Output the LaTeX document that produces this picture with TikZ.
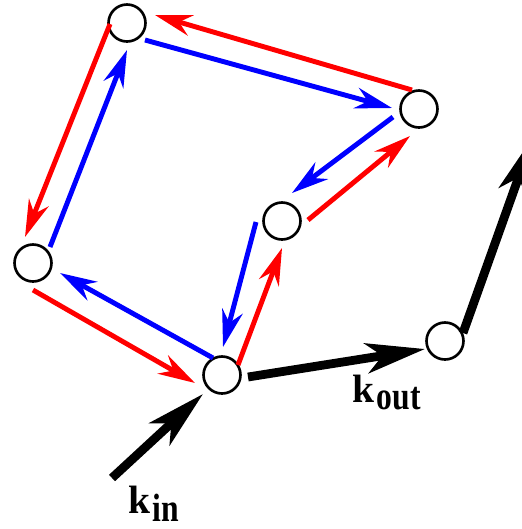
\documentclass[tikz,border=0pt]{standalone}
\usepackage{fontspec}
\setmainfont{Liberation Serif}
\usetikzlibrary{arrows.meta}
\begin{document}
\begin{tikzpicture}[x=0.02cm,y=-0.02cm,
  site/.style={circle, draw, line width=1.5pt, minimum size=0.74cm, inner sep=0pt, fill=white},
  hop/.style={line width=2.8pt, -{Stealth[length=0.74cm,width=0.42cm,inset=0.24cm]}},
  bigarrow/.style={line width=5pt, -{Stealth[length=1.18cm,width=0.6cm,inset=0.32cm]}},
  lab/.style={anchor=base west, inner sep=0pt, font=\fontsize{22.5}{26}\selectfont\bfseries},
  hopred/.style={hop, draw=red},
  hopblue/.style={hop, draw=blue}]
\useasboundingbox (0,0) rectangle (522,529);
\clip (0,0) rectangle (522,529);
% sites
\node[site] (A) at (127,23) {};
\node[site] (B) at (419,109) {};
\node[site] (C) at (282,221) {};
\node[site] (D) at (33,263) {};
\node[site] (E) at (222,375) {};
\node[site] (F) at (445,341) {};
\coordinate (Kin) at (112,478);
\coordinate (G) at (533,137);
% loop hops
\draw[hopred]  ([shift={(-7,-19)}]B.center) -- ([shift={(28,-8)}]A.center);
\draw[hopblue] ([shift={(18,17)}]A.center) -- ([shift={(-27,-1)}]B.center);
\draw[hopred]  ([shift={(-17,1)}]A.center) -- ([shift={(-8,-26)}]D.center);
\draw[hopblue] ([shift={(17,-16)}]D.center) -- ([shift={(0,27)}]A.center);
\draw[hopblue] ([shift={(-26,8)}]B.center) -- ([shift={(10,-28)}]C.center);
\draw[hopred]  ([shift={(26,-1)}]C.center) -- ([shift={(-9,27)}]B.center);
\draw[hopblue] ([shift={(-26,1)}]C.center) -- ([shift={(1,-28)}]E.center);
\draw[hopred]  ([shift={(16,-10)}]E.center) -- ([shift={(0,27)}]C.center);
\draw[hopblue] ([shift={(-9,-17)}]E.center) -- ([shift={(27,10)}]D.center);
\draw[hopred]  ([shift={(0,27)}]D.center) -- ([shift={(-27,8)}]E.center);
% big arrows
\draw[bigarrow] (Kin) -- ([shift={(-19,19)}]E.center);
\draw[bigarrow] ([shift={(26,2)}]E.center) -- ([shift={(-20,8)}]F.center);
\draw[bigarrow] ([shift={(18,-8)}]F.center) -- (G);
% labels
\node[lab] (kin) at (128,513) {k\hspace{1.5pt}\raisebox{-5pt}{\scalebox{0.8}[1]{in}}};
\node[lab] (kout) at (352,402) {k\hspace{1.5pt}\raisebox{-4.5pt}{\scalebox{0.8}[1]{out}}};
\end{tikzpicture}
\end{document}
